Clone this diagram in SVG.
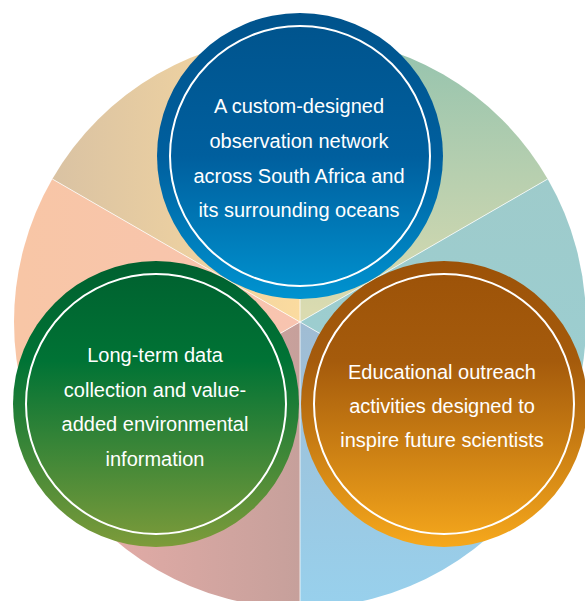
<svg xmlns="http://www.w3.org/2000/svg" width="585" height="601" viewBox="0 0 585 601">
<style>
.lbl{font-family:"Liberation Sans",Arial,sans-serif;font-size:20px;fill:#ffffff;text-anchor:middle}
.ring{fill:none;stroke:#ffffff;stroke-width:2}
.sep{stroke:#ffffff;stroke-width:1;stroke-opacity:0.75;fill:none}
</style>
<defs>
<linearGradient id="gTL" gradientUnits="userSpaceOnUse" x1="50" y1="0" x2="300" y2="0"><stop offset="0" stop-color="#d9c2a3"/><stop offset="1" stop-color="#fbdb9f"/></linearGradient>
<linearGradient id="gTR" gradientUnits="userSpaceOnUse" x1="0" y1="40" x2="0" y2="310"><stop offset="0" stop-color="#94c3ae"/><stop offset="1" stop-color="#dadbb0"/></linearGradient>
<linearGradient id="gR" gradientUnits="userSpaceOnUse" x1="0" y1="180" x2="0" y2="465"><stop offset="0" stop-color="#9ecbcb"/><stop offset="1" stop-color="#9bcfd3"/></linearGradient>
<linearGradient id="gBR" gradientUnits="userSpaceOnUse" x1="0" y1="322" x2="0" y2="601"><stop offset="0" stop-color="#a0bcd3"/><stop offset="1" stop-color="#98d0ec"/></linearGradient>
<linearGradient id="gBL" gradientUnits="userSpaceOnUse" x1="60" y1="0" x2="300" y2="0"><stop offset="0" stop-color="#e9aea9"/><stop offset="1" stop-color="#c6a09b"/></linearGradient>
<linearGradient id="gL" gradientUnits="userSpaceOnUse" x1="20" y1="0" x2="300" y2="0"><stop offset="0" stop-color="#f8c6a6"/><stop offset="1" stop-color="#f8c4b0"/></linearGradient>
<linearGradient id="gBlue" x1="0" y1="0" x2="0" y2="1"><stop offset="0" stop-color="#00538c"/><stop offset="0.5" stop-color="#005f9e"/><stop offset="1" stop-color="#0093d0"/></linearGradient>
<linearGradient id="gGreen" x1="0" y1="0" x2="0" y2="1"><stop offset="0" stop-color="#00602f"/><stop offset="0.35" stop-color="#007335"/><stop offset="1" stop-color="#7d9b3a"/></linearGradient>
<linearGradient id="gOrange" x1="0" y1="0" x2="0" y2="1"><stop offset="0" stop-color="#9c5208"/><stop offset="0.35" stop-color="#a55b0c"/><stop offset="1" stop-color="#f6a81c"/></linearGradient>
</defs>
<g id="background">
<path d="M300,322 L300,36 A286,286 0 0 1 547.68,179 Z" fill="url(#gTR)"/>
<path d="M300,322 L547.68,179 A286,286 0 0 1 547.68,465 Z" fill="url(#gR)"/>
<path d="M300,322 L547.68,465 A286,286 0 0 1 300,608 Z" fill="url(#gBR)"/>
<path d="M300,322 L300,608 A286,286 0 0 1 52.32,465 Z" fill="url(#gBL)"/>
<path d="M300,322 L52.32,465 A286,286 0 0 1 52.32,179 Z" fill="url(#gL)"/>
<path d="M300,322 L52.32,179 A286,286 0 0 1 300,36 Z" fill="url(#gTL)"/>
<path class="sep" d="M300,322 L300,36 M300,322 L547.68,179 M300,322 L547.68,465 M300,322 L300,608 M300,322 L52.32,465 M300,322 L52.32,179"/>
</g>
<g id="connectors"></g>
<g id="node-observation">
<circle cx="300" cy="156" r="143" fill="url(#gBlue)"/>
<circle class="ring" cx="300" cy="156" r="130"/>
<text class="lbl" x="299" y="113">A custom-designed</text>
<text class="lbl" x="299" y="148">observation network</text>
<text class="lbl" x="299" y="183">across South Africa and</text>
<text class="lbl" x="299" y="217">its surrounding oceans</text>
</g>
<g id="node-data">
<circle cx="156" cy="404" r="143" fill="url(#gGreen)"/>
<circle class="ring" cx="156" cy="404" r="130"/>
<text class="lbl" x="155" y="362">Long-term data</text>
<text class="lbl" x="155" y="397">collection and value-</text>
<text class="lbl" x="155" y="431">added environmental</text>
<text class="lbl" x="155" y="466">information</text>
</g>
<g id="node-outreach">
<circle cx="444" cy="404" r="143" fill="url(#gOrange)"/>
<circle class="ring" cx="444" cy="404" r="130"/>
<text class="lbl" x="442" y="379">Educational outreach</text>
<text class="lbl" x="442" y="413">activities designed to</text>
<text class="lbl" x="442" y="447">inspire future scientists</text>
</g>
</svg>
